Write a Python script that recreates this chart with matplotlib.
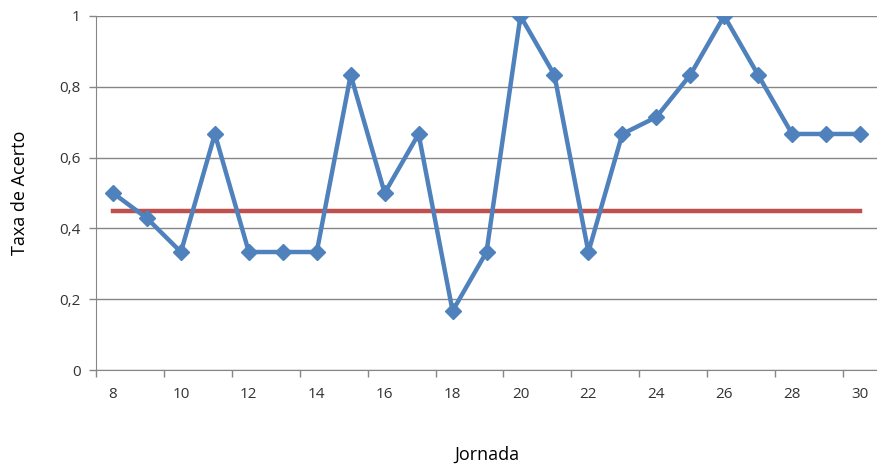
import matplotlib
matplotlib.use('Agg')
from matplotlib import pyplot as plt

jornadas = list(range(8, 31))
taxa = [0.5, 0.4286, 0.3333, 0.6667, 0.3333, 0.3333, 0.3333, 0.8333, 0.5, 0.6667,
        0.1667, 0.3333, 1.0, 0.8333, 0.3333, 0.6667, 0.7143, 0.8333, 1.0, 0.8333,
        0.6667, 0.6667, 0.6667]
media = [0.45] * len(jornadas)

y_ticks = [0, 0.2, 0.4, 0.6, 0.8, 1]
y_labels = ['0', '0,2', '0,4', '0,6', '0,8', '1']
x_labels = list(range(8, 31, 2))

plt.rcParams['font.family'] = ['Open Sans', 'DejaVu Sans']

fig = plt.figure(figsize=(8.77, 4.65), dpi=100)
ax = fig.add_axes([0.1095, 0.2043, 0.8905, 0.7613])

ax.plot(jornadas, taxa, color='#4F81BD', lw=3.2, marker='D', markersize=8.5, zorder=3)
ax.plot(jornadas, media, color='#C0504D', lw=3.2, zorder=2)

ax.set_xlim(7.5, 30.5)
ax.set_ylim(0, 1)
ax.set_yticks(y_ticks)
ax.set_yticklabels(y_labels)
ax.set_xticks(x_labels)
ax.set_xticklabels([str(v) for v in x_labels])
ax.set_xticks([v - 0.5 for v in x_labels], minor=True)
ax.tick_params(axis='x', which='major', length=0, pad=12, labelsize=11, colors='#333333')
ax.tick_params(axis='x', which='minor', length=5, color='#868686', width=1)
ax.tick_params(axis='y', length=5, color='#868686', width=1, pad=6, labelsize=11, labelcolor='#333333')

ax.grid(axis='y', color='#868686', lw=1)
ax.set_axisbelow(True)
for s in ['top', 'right']:
    ax.spines[s].set_visible(False)
ax.spines['left'].set_color('#868686')
ax.spines['bottom'].set_color('#868686')

ax.set_xlabel('Jornada', fontsize=13, labelpad=32)
ax.set_ylabel('Taxa de Acerto', fontsize=13, labelpad=22)

fig.savefig('out.png', dpi=100)
